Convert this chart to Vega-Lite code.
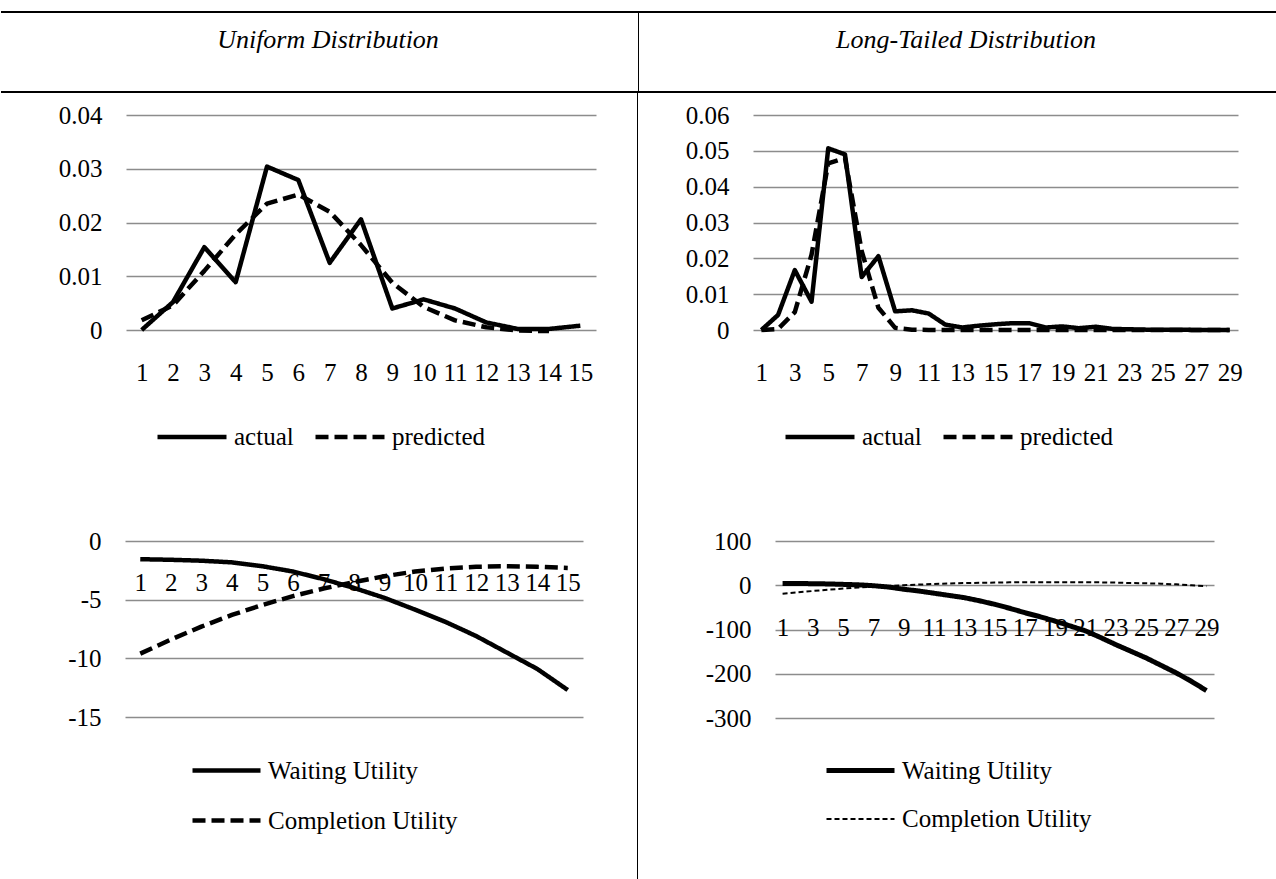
{
  "$schema": "https://vega.github.io/schema/vega-lite/v6.json",
  "background": "white",
  "padding": {"left": 0, "top": 11, "right": 0, "bottom": 0},
  "config": {
    "view": {"stroke": null},
    "font": "Liberation Serif",
    "axis": {"labelFont": "Liberation Serif", "labelFontSize": 25, "labelColor": "black", "ticks": false, "tickSize": 0, "domain": false, "title": null, "gridColor": "#8c8c8c", "gridWidth": 1.3, "labelOverlap": false},
    "axisX": {"grid": false, "labelAngle": 0, "labelPadding": 8},
    "axisY": {"grid": true, "labelPadding": 24},
    "legend": {"labelFont": "Liberation Serif", "labelFontSize": 25, "labelColor": "black", "labelLimit": 400, "title": null, "orient": "none", "symbolType": "stroke", "padding": 0, "labelOffset": 5, "symbolSize": 4761, "symbolStrokeColor": "black", "symbolStrokeWidth": 4.5}
  },
  "datasets": {
    "tl": [
      {"t": 1, "s": "actual", "v": 0}, {"t": 2, "s": "actual", "v": 0.0052}, {"t": 3, "s": "actual", "v": 0.0154}, {"t": 4, "s": "actual", "v": 0.0089}, {"t": 5, "s": "actual", "v": 0.0304}, {"t": 6, "s": "actual", "v": 0.0279}, {"t": 7, "s": "actual", "v": 0.0125}, {"t": 8, "s": "actual", "v": 0.0206}, {"t": 9, "s": "actual", "v": 0.004}, {"t": 10, "s": "actual", "v": 0.0057}, {"t": 11, "s": "actual", "v": 0.004}, {"t": 12, "s": "actual", "v": 0.0014}, {"t": 13, "s": "actual", "v": 0.0002}, {"t": 14, "s": "actual", "v": 0.0002}, {"t": 15, "s": "actual", "v": 0.0008},
      {"t": 1, "s": "predicted", "v": 0.0018}, {"t": 2, "s": "predicted", "v": 0.0046}, {"t": 3, "s": "predicted", "v": 0.011}, {"t": 4, "s": "predicted", "v": 0.0178}, {"t": 5, "s": "predicted", "v": 0.0235}, {"t": 6, "s": "predicted", "v": 0.0252}, {"t": 7, "s": "predicted", "v": 0.022}, {"t": 8, "s": "predicted", "v": 0.0158}, {"t": 9, "s": "predicted", "v": 0.0088}, {"t": 10, "s": "predicted", "v": 0.0043}, {"t": 11, "s": "predicted", "v": 0.0018}, {"t": 12, "s": "predicted", "v": 0.0005}, {"t": 13, "s": "predicted", "v": -0.0001}, {"t": 14, "s": "predicted", "v": -0.0002}
    ],
    "tr": [
      {"t": 1, "s": "actual", "v": 0}, {"t": 2, "s": "actual", "v": 0.0042}, {"t": 3, "s": "actual", "v": 0.0167}, {"t": 4, "s": "actual", "v": 0.0079}, {"t": 5, "s": "actual", "v": 0.0507}, {"t": 6, "s": "actual", "v": 0.049}, {"t": 7, "s": "actual", "v": 0.0148}, {"t": 8, "s": "actual", "v": 0.0206}, {"t": 9, "s": "actual", "v": 0.0052}, {"t": 10, "s": "actual", "v": 0.0055}, {"t": 11, "s": "actual", "v": 0.0046}, {"t": 12, "s": "actual", "v": 0.0015}, {"t": 13, "s": "actual", "v": 0.0007}, {"t": 14, "s": "actual", "v": 0.0012}, {"t": 15, "s": "actual", "v": 0.0016}, {"t": 16, "s": "actual", "v": 0.0019}, {"t": 17, "s": "actual", "v": 0.0019}, {"t": 18, "s": "actual", "v": 0.0007}, {"t": 19, "s": "actual", "v": 0.001}, {"t": 20, "s": "actual", "v": 0.0005}, {"t": 21, "s": "actual", "v": 0.0009}, {"t": 22, "s": "actual", "v": 0.0003}, {"t": 23, "s": "actual", "v": 0.0002}, {"t": 24, "s": "actual", "v": 0.0001}, {"t": 25, "s": "actual", "v": 0.0001}, {"t": 26, "s": "actual", "v": 0.0001}, {"t": 27, "s": "actual", "v": 0}, {"t": 28, "s": "actual", "v": 0}, {"t": 29, "s": "actual", "v": 0},
      {"t": 1, "s": "predicted", "v": 0}, {"t": 2, "s": "predicted", "v": 0.0003}, {"t": 3, "s": "predicted", "v": 0.005}, {"t": 4, "s": "predicted", "v": 0.021}, {"t": 5, "s": "predicted", "v": 0.0465}, {"t": 6, "s": "predicted", "v": 0.048}, {"t": 7, "s": "predicted", "v": 0.022}, {"t": 8, "s": "predicted", "v": 0.0062}, {"t": 9, "s": "predicted", "v": 0.0006}, {"t": 10, "s": "predicted", "v": 0.0001}, {"t": 11, "s": "predicted", "v": 0}, {"t": 12, "s": "predicted", "v": 0}, {"t": 13, "s": "predicted", "v": 0}, {"t": 14, "s": "predicted", "v": 0}, {"t": 15, "s": "predicted", "v": 0}, {"t": 16, "s": "predicted", "v": 0}, {"t": 17, "s": "predicted", "v": 0}, {"t": 18, "s": "predicted", "v": 0}, {"t": 19, "s": "predicted", "v": 0}, {"t": 20, "s": "predicted", "v": 0}, {"t": 21, "s": "predicted", "v": 0}, {"t": 22, "s": "predicted", "v": 0}, {"t": 23, "s": "predicted", "v": 0}, {"t": 24, "s": "predicted", "v": 0}, {"t": 25, "s": "predicted", "v": 0}, {"t": 26, "s": "predicted", "v": 0}, {"t": 27, "s": "predicted", "v": 0}, {"t": 28, "s": "predicted", "v": 0}, {"t": 29, "s": "predicted", "v": 0}
    ],
    "bl": [
      {"t": 1, "s": "Waiting Utility", "v": -1.55}, {"t": 2, "s": "Waiting Utility", "v": -1.6}, {"t": 3, "s": "Waiting Utility", "v": -1.68}, {"t": 4, "s": "Waiting Utility", "v": -1.82}, {"t": 5, "s": "Waiting Utility", "v": -2.15}, {"t": 6, "s": "Waiting Utility", "v": -2.6}, {"t": 7, "s": "Waiting Utility", "v": -3.25}, {"t": 8, "s": "Waiting Utility", "v": -4.0}, {"t": 9, "s": "Waiting Utility", "v": -4.85}, {"t": 10, "s": "Waiting Utility", "v": -5.85}, {"t": 11, "s": "Waiting Utility", "v": -6.9}, {"t": 12, "s": "Waiting Utility", "v": -8.1}, {"t": 13, "s": "Waiting Utility", "v": -9.5}, {"t": 14, "s": "Waiting Utility", "v": -10.9}, {"t": 15, "s": "Waiting Utility", "v": -12.7},
      {"t": 1, "s": "Completion Utility", "v": -9.6}, {"t": 2, "s": "Completion Utility", "v": -8.4}, {"t": 3, "s": "Completion Utility", "v": -7.3}, {"t": 4, "s": "Completion Utility", "v": -6.3}, {"t": 5, "s": "Completion Utility", "v": -5.45}, {"t": 6, "s": "Completion Utility", "v": -4.7}, {"t": 7, "s": "Completion Utility", "v": -4.05}, {"t": 8, "s": "Completion Utility", "v": -3.5}, {"t": 9, "s": "Completion Utility", "v": -3.0}, {"t": 10, "s": "Completion Utility", "v": -2.6}, {"t": 11, "s": "Completion Utility", "v": -2.35}, {"t": 12, "s": "Completion Utility", "v": -2.2}, {"t": 13, "s": "Completion Utility", "v": -2.15}, {"t": 14, "s": "Completion Utility", "v": -2.2}, {"t": 15, "s": "Completion Utility", "v": -2.3}
    ],
    "br": [
      {"t": 1, "s": "Waiting Utility", "v": 4}, {"t": 2, "s": "Waiting Utility", "v": 4}, {"t": 3, "s": "Waiting Utility", "v": 3.5}, {"t": 4, "s": "Waiting Utility", "v": 3}, {"t": 5, "s": "Waiting Utility", "v": 2}, {"t": 6, "s": "Waiting Utility", "v": 1}, {"t": 7, "s": "Waiting Utility", "v": -1}, {"t": 8, "s": "Waiting Utility", "v": -4}, {"t": 9, "s": "Waiting Utility", "v": -9}, {"t": 10, "s": "Waiting Utility", "v": -13}, {"t": 11, "s": "Waiting Utility", "v": -18}, {"t": 12, "s": "Waiting Utility", "v": -23}, {"t": 13, "s": "Waiting Utility", "v": -28}, {"t": 14, "s": "Waiting Utility", "v": -35}, {"t": 15, "s": "Waiting Utility", "v": -43}, {"t": 16, "s": "Waiting Utility", "v": -52}, {"t": 17, "s": "Waiting Utility", "v": -62}, {"t": 18, "s": "Waiting Utility", "v": -71}, {"t": 19, "s": "Waiting Utility", "v": -81}, {"t": 20, "s": "Waiting Utility", "v": -92}, {"t": 21, "s": "Waiting Utility", "v": -103}, {"t": 22, "s": "Waiting Utility", "v": -118}, {"t": 23, "s": "Waiting Utility", "v": -134}, {"t": 24, "s": "Waiting Utility", "v": -149}, {"t": 25, "s": "Waiting Utility", "v": -164}, {"t": 26, "s": "Waiting Utility", "v": -181}, {"t": 27, "s": "Waiting Utility", "v": -198}, {"t": 28, "s": "Waiting Utility", "v": -217}, {"t": 29, "s": "Waiting Utility", "v": -238},
      {"t": 1, "s": "Completion Utility", "v": -19}, {"t": 2, "s": "Completion Utility", "v": -16}, {"t": 3, "s": "Completion Utility", "v": -13}, {"t": 4, "s": "Completion Utility", "v": -10}, {"t": 5, "s": "Completion Utility", "v": -7.5}, {"t": 6, "s": "Completion Utility", "v": -5}, {"t": 7, "s": "Completion Utility", "v": -3}, {"t": 8, "s": "Completion Utility", "v": -1.5}, {"t": 9, "s": "Completion Utility", "v": 0}, {"t": 10, "s": "Completion Utility", "v": 1.5}, {"t": 11, "s": "Completion Utility", "v": 3}, {"t": 12, "s": "Completion Utility", "v": 4}, {"t": 13, "s": "Completion Utility", "v": 5}, {"t": 14, "s": "Completion Utility", "v": 5.5}, {"t": 15, "s": "Completion Utility", "v": 6}, {"t": 16, "s": "Completion Utility", "v": 6.5}, {"t": 17, "s": "Completion Utility", "v": 7}, {"t": 18, "s": "Completion Utility", "v": 7}, {"t": 19, "s": "Completion Utility", "v": 7}, {"t": 20, "s": "Completion Utility", "v": 7}, {"t": 21, "s": "Completion Utility", "v": 7}, {"t": 22, "s": "Completion Utility", "v": 6.5}, {"t": 23, "s": "Completion Utility", "v": 6}, {"t": 24, "s": "Completion Utility", "v": 5}, {"t": 25, "s": "Completion Utility", "v": 4.5}, {"t": 26, "s": "Completion Utility", "v": 3.5}, {"t": 27, "s": "Completion Utility", "v": 2}, {"t": 28, "s": "Completion Utility", "v": 0}, {"t": 29, "s": "Completion Utility", "v": -2}
    ]
  },
  "spacing": 0,
  "resolve": {"scale": {"strokeDash": "independent", "strokeWidth": "independent"}, "legend": {"strokeDash": "independent", "strokeWidth": "independent"}},
  "vconcat": [
    {
      "width": 1276,
      "height": 80,
      "layer": [
        {
          "data": {"values": [{"h": "Uniform Distribution", "c": "a"}, {"h": "Long-Tailed Distribution", "c": "b"}]},
          "mark": {"type": "text", "fontStyle": "italic", "fontSize": 26, "font": "Liberation Serif", "baseline": "middle", "color": "black", "dx": 8},
          "encoding": {
            "x": {"field": "c", "type": "nominal", "axis": null},
            "y": {"datum": 0.65, "type": "quantitative", "scale": {"domain": [0, 1]}, "axis": null},
            "text": {"field": "h"}
          }
        },
        {
          "data": {"values": [{}]},
          "mark": {"type": "rule", "strokeWidth": 2, "color": "black"},
          "encoding": {"y": {"datum": 1, "type": "quantitative"}}
        },
        {
          "data": {"values": [{}]},
          "mark": {"type": "rule", "strokeWidth": 2, "color": "black"},
          "encoding": {"y": {"datum": 0, "type": "quantitative"}}
        },
        {
          "data": {"values": [{}]},
          "mark": {"type": "rect", "color": "black"},
          "encoding": {
            "x": {"datum": 0.49922, "type": "quantitative", "scale": {"domain": [0, 1]}, "axis": null},
            "x2": {"datum": 0.5}
          }
        }
      ],
      "resolve": {"scale": {"x": "independent"}}
    },
    {
      "spacing": 41,
      "resolve": {"scale": {"strokeDash": "independent", "strokeWidth": "independent"}, "legend": {"strokeDash": "independent", "strokeWidth": "independent"}},
      "hconcat": [
        {"width": 1, "height": 30, "data": {"values": [{}]}, "mark": {"type": "text", "text": ""}, "encoding": {}},
        {
          "width": 470, "height": 259,
          "data": {"name": "tl"},
          "mark": {"type": "line", "color": "black", "strokeCap": "butt", "strokeJoin": "round", "strokeWidth": 4.5},
          "encoding": {
            "x": {"field": "t", "type": "ordinal"},
            "y": {"field": "v", "type": "quantitative", "scale": {"domain": [0, 0.04], "nice": false, "zero": false, "padding": 22}, "axis": {"values": [0, 0.01, 0.02, 0.03, 0.04], "format": ".2~f", "minExtent": 83, "maxExtent": 83}},
            "strokeDash": {"field": "s", "type": "nominal", "scale": {"domain": ["actual", "predicted"], "range": [[1, 0], [13, 6]]}, "legend": {"direction": "horizontal", "legendX": 29, "legendY": 307, "columnPadding": 12}}
          }
        },
        {"width": 1, "height": 426, "data": {"values": [{}]}, "mark": {"type": "rect", "color": "black"}, "encoding": {"x": {"datum": 0, "type": "quantitative", "scale": {"domain": [0, 1]}, "axis": null}, "x2": {"datum": 1}}},
        {
          "width": 485, "height": 259,
          "data": {"name": "tr"},
          "mark": {"type": "line", "color": "black", "strokeCap": "butt", "strokeJoin": "round", "strokeWidth": 4.5},
          "encoding": {
            "x": {"field": "t", "type": "ordinal", "axis": {"values": [1, 3, 5, 7, 9, 11, 13, 15, 17, 19, 21, 23, 25, 27, 29]}},
            "y": {"field": "v", "type": "quantitative", "scale": {"domain": [0, 0.06], "nice": false, "zero": false, "padding": 22}, "axis": {"values": [0, 0.01, 0.02, 0.03, 0.04, 0.05, 0.06], "format": ".2~f", "minExtent": 74, "maxExtent": 74}},
            "strokeDash": {"field": "s", "type": "nominal", "scale": {"domain": ["actual", "predicted"], "range": [[1, 0], [13, 6]]}, "legend": {"direction": "horizontal", "legendX": 30, "legendY": 307, "columnPadding": 12}}
          }
        }
      ]
    },
    {
      "spacing": 54,
      "resolve": {"scale": {"strokeDash": "independent", "strokeWidth": "independent"}, "legend": {"strokeDash": "independent", "strokeWidth": "independent"}},
      "hconcat": [
        {"width": 1, "height": 30, "data": {"values": [{}]}, "mark": {"type": "text", "text": ""}, "encoding": {}},
        {
          "width": 458, "height": 220,
          "data": {"name": "bl"},
          "mark": {"type": "line", "color": "black", "strokeCap": "butt", "strokeJoin": "round", "strokeWidth": 4.5},
          "encoding": {
            "x": {"field": "t", "type": "ordinal", "axis": {"offset": -177}},
            "y": {"field": "v", "type": "quantitative", "scale": {"domain": [-15, 0], "nice": false, "zero": false, "padding": 22}, "axis": {"values": [0, -5, -10, -15], "labelExpr": "datum.value < 0 ? '-' + (-datum.value) : '' + datum.value", "minExtent": 69, "maxExtent": 69}},
            "strokeDash": {"field": "s", "type": "nominal", "scale": {"domain": ["Waiting Utility", "Completion Utility"], "range": [[1, 0], [13, 6]]}, "legend": {"direction": "vertical", "legendX": 65, "legendY": 215, "rowPadding": -7, "symbolSize": 4624}}
          }
        },
        {"width": 1, "height": 360, "data": {"values": [{}]}, "mark": {"type": "rect", "color": "black"}, "encoding": {"x": {"datum": 0, "type": "quantitative", "scale": {"domain": [0, 1]}, "axis": null}, "x2": {"datum": 1}}},
        {
          "width": 439, "height": 221,
          "data": {"name": "br"},
          "mark": {"type": "line", "color": "black", "strokeCap": "butt", "strokeJoin": "round"},
          "encoding": {
            "x": {"field": "t", "type": "ordinal", "axis": {"offset": -133, "values": [1, 3, 5, 7, 9, 11, 13, 15, 17, 19, 21, 23, 25, 27, 29]}},
            "y": {"field": "v", "type": "quantitative", "scale": {"domain": [-300, 100], "nice": false, "zero": false, "padding": 22}, "axis": {"values": [100, 0, -100, -200, -300], "labelExpr": "datum.value < 0 ? '-' + (-datum.value) : '' + datum.value", "minExtent": 83, "maxExtent": 83}},
            "strokeDash": {"field": "s", "type": "nominal", "scale": {"domain": ["Waiting Utility", "Completion Utility"], "range": [[1, 0], [5, 3]]}, "legend": {"direction": "vertical", "legendX": 49, "legendY": 215, "rowPadding": -7, "symbolSize": 4624}},
            "strokeWidth": {"field": "s", "type": "nominal", "scale": {"domain": ["Waiting Utility", "Completion Utility"], "range": [5, 2]}, "legend": {"direction": "vertical", "legendX": 49, "legendY": 215, "rowPadding": -7, "symbolSize": 4624}}
          }
        }
      ]
    }
  ]
}
